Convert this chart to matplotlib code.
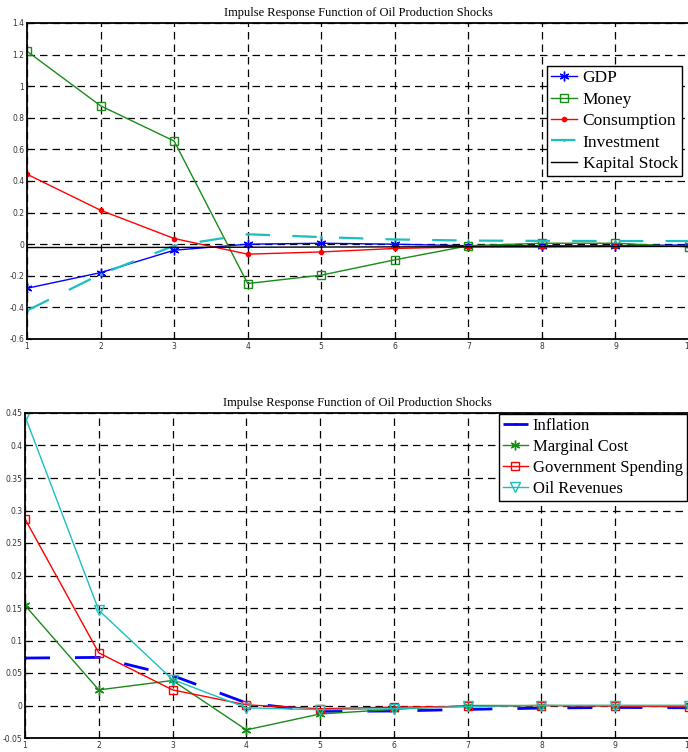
import matplotlib
matplotlib.use("Agg")
import matplotlib.pyplot as plt
import numpy as np

periods = [1, 2, 3, 4, 5, 6, 7, 8, 9, 10]

# Top panel
gdp = [-0.279, -0.180, -0.038, 0.000, 0.006, 0.000, -0.010, -0.010, -0.010, -0.005]
money = [1.221, 0.876, 0.653, -0.249, -0.196, -0.099, -0.010, 0.006, 0.006, -0.017]
consumption = [0.443, 0.215, 0.036, -0.063, -0.049, -0.027, -0.017, -0.017, -0.013, -0.010]
investment = [-0.420, -0.190, -0.010, 0.063, 0.045, 0.030, 0.023, 0.021, 0.020, 0.020]
kapital = [-0.021, -0.021, -0.020, -0.019, -0.018, -0.017, -0.016, -0.015, -0.015, -0.014]

# Bottom panel
inflation = [0.073, 0.074, 0.046, 0.004, -0.009, -0.0085, -0.006, -0.004, -0.003, -0.0035]
marginal_cost = [0.154, 0.024, 0.0385, -0.0375, -0.013, -0.006, 0.0, 0.0, 0.0, 0.0]
gov_spending = [0.287, 0.081, 0.024, 0.001, -0.005, -0.0025, -0.0015, 0.0, -0.001, -0.002]
oil_revenues = [0.445, 0.1465, 0.040, -0.0035, -0.0065, -0.005, -0.0015, 0.0, 0.0, 0.0]

title = "Impulse Response Function of Oil Production Shocks"
top_yticks = [-0.6, -0.4, -0.2, 0, 0.2, 0.4, 0.6, 0.8, 1, 1.2, 1.4]
top_ylabels = ["-0.6", "-0.4", "-0.2", "0", "0.2", "0.4", "0.6", "0.8", "1", "1.2", "1.4"]
bot_yticks = [-0.05, 0, 0.05, 0.1, 0.15, 0.2, 0.25, 0.3, 0.35, 0.4, 0.45]
bot_ylabels = ["-0.05", "0", "0.05", "0.1", "0.15", "0.2", "0.25", "0.3", "0.35", "0.4", "0.45"]

CYAN = "#1cbfbf"
GREEN = "#1a8a1a"
serif = ["Liberation Serif", "DejaVu Serif"]

fig = plt.figure(figsize=(6.88, 7.52), dpi=100)
ax1 = fig.add_axes([27/688, 1-339/752, 662/688, 316/752])
ax2 = fig.add_axes([25/688, 1-738/752, 664/688, 325/752])


def style(ax, yticks, ylabels, ylim):
    ax.set_xlim(1, 10)
    ax.set_ylim(*ylim)
    ax.set_xticks(periods)
    ax.set_xticklabels([str(p) for p in periods])
    ax.set_yticks(yticks)
    ax.set_yticklabels(ylabels)
    ax.tick_params(direction="in", labelsize=5.5, length=3, labelcolor="#333333", pad=2)
    ax.grid(True, color="black", linestyle=(0, (6, 4)), linewidth=0.9)
    for s in ax.spines.values():
        s.set_linewidth(1.3)
    ax.set_title(title, fontsize=9, family=serif, pad=5)


ax1.plot(periods, gdp, color="blue", marker=(6, 2, 0), markersize=7, linewidth=1.0, label="GDP")
ax1.plot(periods, money, color=GREEN, marker="s", markerfacecolor="none", markersize=6, linewidth=1.0, label="Money")
ax1.plot(periods, consumption, color="red", marker=".", markersize=6, linewidth=1.0, label="Consumption")
ax1.plot(periods, investment, color=CYAN, linewidth=1.6, linestyle=(0, (11, 10)), marker=".", markersize=2, label="Investment")
ax1.plot(periods, kapital, color="black", linewidth=1.0, label="Kapital Stock")
style(ax1, top_yticks, top_ylabels, (-0.6, 1.4))
leg1 = ax1.legend(loc="upper right", bbox_to_anchor=(0.995, 0.875), prop={"family": serif, "size": 12.5},
                  frameon=True, fancybox=False, edgecolor="black", framealpha=1, handlelength=1.5,
                  handletextpad=0.3, labelspacing=0.3, borderpad=0.25, borderaxespad=0.2)
leg1.get_frame().set_linewidth(1.0)

ax2.plot(periods, inflation, color="blue", linewidth=2.0, linestyle=(0, (9, 9)), marker=".", markersize=2, label="Inflation")
ax2.plot(periods, marginal_cost, color=GREEN, marker=(6, 2, 0), markersize=7, linewidth=1.0, label="Marginal Cost")
ax2.plot(periods, gov_spending, color="red", marker="s", markerfacecolor="none", markersize=6, linewidth=1.0, label="Government Spending")
ax2.plot(periods, oil_revenues, color=CYAN, marker="v", markerfacecolor="none", markersize=7, linewidth=1.0, label="Oil Revenues")
style(ax2, bot_yticks, bot_ylabels, (-0.05, 0.45))
leg2 = ax2.legend(loc="upper right", bbox_to_anchor=(0.997, 0.997), prop={"family": serif, "size": 12},
                  frameon=True, fancybox=False, edgecolor="black", framealpha=1, handlelength=1.5,
                  handletextpad=0.3, labelspacing=0.3, borderpad=0.25, borderaxespad=0.0)
leg2.get_frame().set_linewidth(1.0)

fig.savefig("out.png", dpi=100)
